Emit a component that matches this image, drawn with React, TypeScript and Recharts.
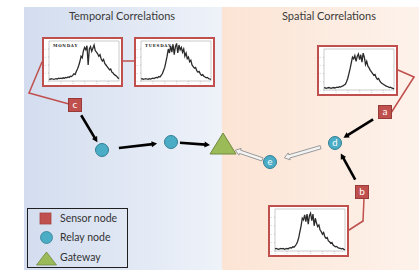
import React from 'react';
import {
  ScatterChart,
  Scatter,
  XAxis,
  YAxis,
  ReferenceArea,
  ReferenceLine,
  LineChart,
  Line,
} from 'recharts';

// ---------- data ----------
const mondayValues = [
  5, 4, 6, 5, 4, 5, 6, 5, 7, 6, 7, 6, 8, 7, 9, 8, 10, 9, 12, 11, 14, 18, 16, 24, 30,
  38, 48, 62, 58, 75, 84, 78, 88, 40, 80, 86, 74, 82, 90, 76, 72, 68, 62, 66, 55,
  50, 54, 44, 40, 36, 32, 28, 30, 22, 20, 16, 14, 12, 8, 6,
];
const tuesdayValues = [
  5, 6, 4, 5, 6, 5, 4, 6, 5, 6, 7, 6, 8, 9, 8, 11, 10, 14, 18, 26, 34, 48, 62, 80, 70,
  88, 72, 92, 66, 86, 94, 70, 90, 78, 84, 72, 80, 62, 70, 56, 60, 48, 52, 40, 36,
  32, 34, 26, 22, 24, 18, 14, 16, 12, 10, 8, 9, 6, 5, 4,
];
const sensorAValues = [
  6, 5, 4, 5, 6, 5, 4, 5, 6, 5, 6, 7, 6, 8, 7, 9, 10, 12, 14, 20, 28, 40, 52, 66, 80,
  76, 84, 70, 82, 88, 74, 86, 68, 90, 80, 62, 70, 58, 54, 48, 44, 40, 36, 38, 30,
  26, 28, 22, 18, 16, 14, 12, 10, 9, 8, 6, 7, 5, 4, 3,
];
const sensorBValues = [
  5, 6, 5, 4, 5, 6, 5, 6, 4, 5, 6, 5, 7, 8, 7, 10, 9, 12, 16, 22, 32, 46, 60, 78, 74,
  86, 70, 88, 64, 84, 90, 72, 88, 60, 78, 66, 58, 62, 50, 46, 40, 44, 34, 30, 32,
  24, 22, 18, 20, 14, 12, 10, 11, 8, 7, 6, 5, 6, 4, 3,
];
const insetTickX = [0, 10, 20, 30, 40, 50];
const insetTickY = [0, 20, 40, 60, 80];

const sensorNodes = [
  { id: 'a', x: 385, y: 112 },
  { id: 'b', x: 362, y: 192 },
  { id: 'c', x: 75, y: 105 },
];
const relayNodes = [
  { id: 'r1', label: '', x: 102, y: 150 },
  { id: 'r2', label: '', x: 171, y: 142 },
  { id: 'd', label: 'd', x: 335, y: 143 },
  { id: 'e', label: 'e', x: 270, y: 162 },
];
const gatewayNodes = [{ id: 'g', x: 223, y: 146 }];

// edges: from, to, kind
const edges: [string, string, string][] = [
  ['c', 'r1', 'solid'],
  ['r1', 'r2', 'solid'],
  ['r2', 'g', 'solid'],
  ['a', 'd', 'solid'],
  ['b', 'd', 'solid'],
  ['d', 'e', 'hollow'],
  ['e', 'g', 'hollow'],
];
// gaps between node centre and line ends (layout)
const edgeGaps: Record<string, [number, number]> = {
  'c-r1': [12, 9],
  'r1-r2': [17, 14],
  'r2-g': [9, 13],
  'a-d': [14, 10],
  'b-d': [14, 12],
  'd-e': [15, 15],
  'e-g': [8, 13],
};

// red connector polylines (inset -> sensor)
const connectors = [
  [{ x: 42, y: 62 }, { x: 29, y: 93 }, { x: 69, y: 104 }],
  [{ x: 123, y: 61 }, { x: 134, y: 61 }],
  [{ x: 398, y: 70 }, { x: 414, y: 77 }, { x: 391, y: 113 }],
  [{ x: 364, y: 198 }, { x: 363, y: 221 }, { x: 349, y: 230 }],
];

const insets = [
  { key: 'mon', label: 'MONDAY', values: mondayValues, left: 42, top: 37, w: 81, h: 50 },
  { key: 'tue', label: 'TUESDAY', values: tuesdayValues, left: 134, top: 37, w: 81, h: 50 },
  { key: 'a', label: '', values: sensorAValues, left: 317, top: 45, w: 81, h: 51 },
  { key: 'b', label: '', values: sensorBValues, left: 268, top: 205, w: 81, h: 52 },
];

// ---------- style ----------
const RED = '#c0504d';
const TEAL = '#4bacc6';
const GREEN = '#9bbb59';
const FONT = 'Lato, "Open Sans", sans-serif';

const allNodes: Record<string, { x: number; y: number }> = {};
[...sensorNodes, ...relayNodes, ...gatewayNodes].forEach((n) => {
  allNodes[n.id] = { x: n.x, y: n.y };
});

function segment(from: string, to: string, g0: number, g1: number) {
  const a = allNodes[from];
  const b = allNodes[to];
  const dx = b.x - a.x;
  const dy = b.y - a.y;
  const len = Math.hypot(dx, dy);
  const ux = dx / len;
  const uy = dy / len;
  return [
    { x: a.x + ux * g0, y: a.y + uy * g0 },
    { x: b.x - ux * g1, y: b.y - uy * g1 },
  ];
}

const BlackArrow = (props: any) => {
  const { x1, y1, x2, y2 } = props;
  const dx = x2 - x1;
  const dy = y2 - y1;
  const len = Math.hypot(dx, dy) || 1;
  const ux = dx / len;
  const uy = dy / len;
  const hl = 5.5;
  const hw = 3;
  const bx = x2 - ux * hl;
  const by = y2 - uy * hl;
  const px = -uy;
  const py = ux;
  return (
    <g>
      <line x1={x1} y1={y1} x2={bx + ux} y2={by + uy} stroke="#000" strokeWidth={2.6} />
      <polygon
        points={`${x2},${y2} ${bx + px * hw},${by + py * hw} ${bx - px * hw},${by - py * hw}`}
        fill="#000"
      />
    </g>
  );
};

const HollowArrow = (props: any) => {
  const { x1, y1, x2, y2 } = props;
  const dx = x2 - x1;
  const dy = y2 - y1;
  const len = Math.hypot(dx, dy) || 1;
  const ux = dx / len;
  const uy = dy / len;
  const px = -uy;
  const py = ux;
  const sw = 1.7;
  const hw = 3.6;
  const hl = 5;
  const bx = x2 - ux * hl;
  const by = y2 - uy * hl;
  const pts = [
    [x1 + px * sw, y1 + py * sw],
    [bx + px * sw, by + py * sw],
    [bx + px * hw, by + py * hw],
    [x2, y2],
    [bx - px * hw, by - py * hw],
    [bx - px * sw, by - py * sw],
    [x1 - px * sw, y1 - py * sw],
  ]
    .map((p) => `${p[0]},${p[1]}`)
    .join(' ');
  return <polygon points={pts} fill="#f3f3f3" stroke="#9a9a9a" strokeWidth={1} strokeLinejoin="miter" />;
};

const RedLine = (props: any) => {
  const { x1, y1, x2, y2 } = props;
  return <line x1={x1} y1={y1} x2={x2} y2={y2} stroke={RED} strokeWidth={1.5} strokeLinecap="round" />;
};

const SensorShape = (props: any) => {
  const { cx, cy, payload } = props;
  return (
    <g>
      <rect x={cx - 6.5} y={cy - 6.5} width={13} height={13} fill={RED} stroke="#983a37" strokeWidth={1} />
      <text x={cx} y={cy + 3.3} textAnchor="middle" fill="#fff" fontSize={10} fontFamily={FONT}>
        {payload.id}
      </text>
    </g>
  );
};

const RelayShape = (props: any) => {
  const { cx, cy, payload } = props;
  return (
    <g>
      <circle cx={cx} cy={cy} r={6.5} fill={TEAL} stroke="#327f94" strokeWidth={1} />
      {payload.label ? (
        <text x={cx} y={cy + 3.2} textAnchor="middle" fill="#fff" fontSize={9.5} fontFamily={FONT}>
          {payload.label}
        </text>
      ) : null}
    </g>
  );
};

const GatewayShape = (props: any) => {
  const { cx, cy } = props;
  return (
    <polygon
      points={`${cx},${cy - 13} ${cx - 13},${cy + 8} ${cx + 13},${cy + 8}`}
      fill={GREEN}
      stroke="#71893f"
      strokeWidth={1}
    />
  );
};

function Inset({ inset }: { inset: (typeof insets)[number] }) {
  const data = inset.values.map((v, i) => ({ i, v }));
  const innerW = inset.w - 4;
  const innerH = inset.h - 4;
  return (
    <div
      style={{
        position: 'absolute',
        left: inset.left,
        top: inset.top,
        width: inset.w,
        height: inset.h,
        boxSizing: 'border-box',
        border: `2px solid ${RED}`,
        background: '#fff',
      }}
    >
      <LineChart width={innerW} height={innerH} data={data} margin={{ top: 2, right: 2, bottom: 0, left: 0 }}>
        <XAxis
          dataKey="i"
          type="number"
          domain={[0, 59]}
          ticks={insetTickX}
          height={4}
          tickSize={1}
          axisLine={false}
          tickLine={{ stroke: '#999', strokeWidth: 0.5 }}
          tick={{ fontSize: 1.8, fill: '#bbb', dy: -1 }}
        />
        <YAxis
          type="number"
          domain={[0, 100]}
          ticks={insetTickY}
          width={5}
          tickSize={1}
          axisLine={false}
          tickLine={{ stroke: '#999', strokeWidth: 0.5 }}
          tick={{ fontSize: 1.8, fill: '#bbb' }}
        />
        <ReferenceArea x1={0} x2={59} y1={0} y2={100} fill="none" stroke="#aaa" strokeWidth={0.6} />
        <Line
          dataKey="v"
          type="linear"
          stroke="#2b2b2b"
          strokeWidth={1.3}
          dot={false}
          isAnimationActive={false}
        />
      </LineChart>
      {inset.label ? (
        <div
          style={{
            position: 'absolute',
            left: 9,
            top: 4,
            fontSize: 4,
            fontWeight: 'bold',
            fontFamily: '"DejaVu Serif", serif',
            letterSpacing: 0.7,
            color: '#222',
            lineHeight: '5px',
          }}
        >
          {inset.label}
        </div>
      ) : null}
    </div>
  );
}

export default function App() {
  return (
    <div style={{ position: 'absolute', left: 0, top: 0, width: 419, height: 270, background: '#fff', overflow: 'hidden' }}>
      <svg width={0} height={0} style={{ position: 'absolute' }}>
        <defs>
          <linearGradient id="bluePanel" x1="0" y1="0" x2="1" y2="0">
            <stop offset="0%" stopColor="#d3ddef" />
            <stop offset="100%" stopColor="#eef2f9" />
          </linearGradient>
          <linearGradient id="peachPanel" x1="0" y1="0" x2="1" y2="0">
            <stop offset="0%" stopColor="#fce4d4" />
            <stop offset="100%" stopColor="#fdf2eb" />
          </linearGradient>
        </defs>
      </svg>
      <ScatterChart width={419} height={270} margin={{ top: 0, right: 0, bottom: 0, left: 0 }}>
        <XAxis dataKey="x" type="number" domain={[0, 419]} hide allowDataOverflow />
        <YAxis dataKey="y" type="number" domain={[0, 270]} reversed hide allowDataOverflow />
        <ReferenceArea x1={24} x2={222} y1={7} y2={270} fill="url(#bluePanel)" fillOpacity={1} stroke="none" />
        <ReferenceArea x1={222} x2={419} y1={7} y2={270} fill="url(#peachPanel)" fillOpacity={1} stroke="none" />
        {connectors.flatMap((pts, ci) =>
          pts.slice(1).map((p, pi) => (
            <ReferenceLine
              key={`conn-${ci}-${pi}`}
              segment={[pts[pi], p]}
              shape={RedLine}
              ifOverflow="visible"
            />
          )),
        )}
        {edges.map(([from, to, kind]) => {
          const gaps = edgeGaps[`${from}-${to}`];
          return (
            <ReferenceLine
              key={`edge-${from}-${to}`}
              segment={segment(from, to, gaps[0], gaps[1])}
              shape={kind === 'hollow' ? HollowArrow : BlackArrow}
              ifOverflow="visible"
            />
          );
        })}
        <Scatter data={sensorNodes} shape={SensorShape} isAnimationActive={false} />
        <Scatter data={relayNodes} shape={RelayShape} isAnimationActive={false} />
        <Scatter data={gatewayNodes} shape={GatewayShape} isAnimationActive={false} />
      </ScatterChart>

      <div
        style={{
          position: 'absolute',
          left: 122,
          top: 9,
          transform: 'translateX(-50%)',
          fontFamily: FONT,
          fontSize: 11,
          color: '#3a3a3a',
          whiteSpace: 'nowrap',
        }}
      >
        Temporal Correlations
      </div>
      <div
        style={{
          position: 'absolute',
          left: 329,
          top: 9,
          transform: 'translateX(-50%)',
          fontFamily: FONT,
          fontSize: 11,
          color: '#3a3a3a',
          whiteSpace: 'nowrap',
        }}
      >
        Spatial Correlations
      </div>

      {insets.map((inset) => (
        <Inset key={inset.key} inset={inset} />
      ))}

      <div
        style={{
          position: 'absolute',
          left: 27,
          top: 208,
          width: 101,
          height: 60,
          boxSizing: 'border-box',
          border: '1.5px solid #1f1f1f',
          fontFamily: FONT,
          fontSize: 10.5,
          color: '#333',
        }}
      >
        <svg width={30} height={57} style={{ position: 'absolute', left: 0, top: 0 }}>
          <rect x={12} y={4} width={11} height={11} fill={RED} stroke="#a84340" strokeWidth={0.8} />
          <circle cx={18.5} cy={28.5} r={6} fill={TEAL} stroke="#327f94" strokeWidth={0.8} />
          <polygon points="18.5,43 8.5,56 28.5,56" fill={GREEN} stroke="#71893f" strokeWidth={0.8} />
        </svg>
        <div style={{ position: 'absolute', left: 32, top: 3, whiteSpace: 'nowrap' }}>Sensor node</div>
        <div style={{ position: 'absolute', left: 32, top: 22, whiteSpace: 'nowrap' }}>Relay node</div>
        <div style={{ position: 'absolute', left: 32, top: 42, whiteSpace: 'nowrap' }}>Gateway</div>
      </div>
    </div>
  );
}
